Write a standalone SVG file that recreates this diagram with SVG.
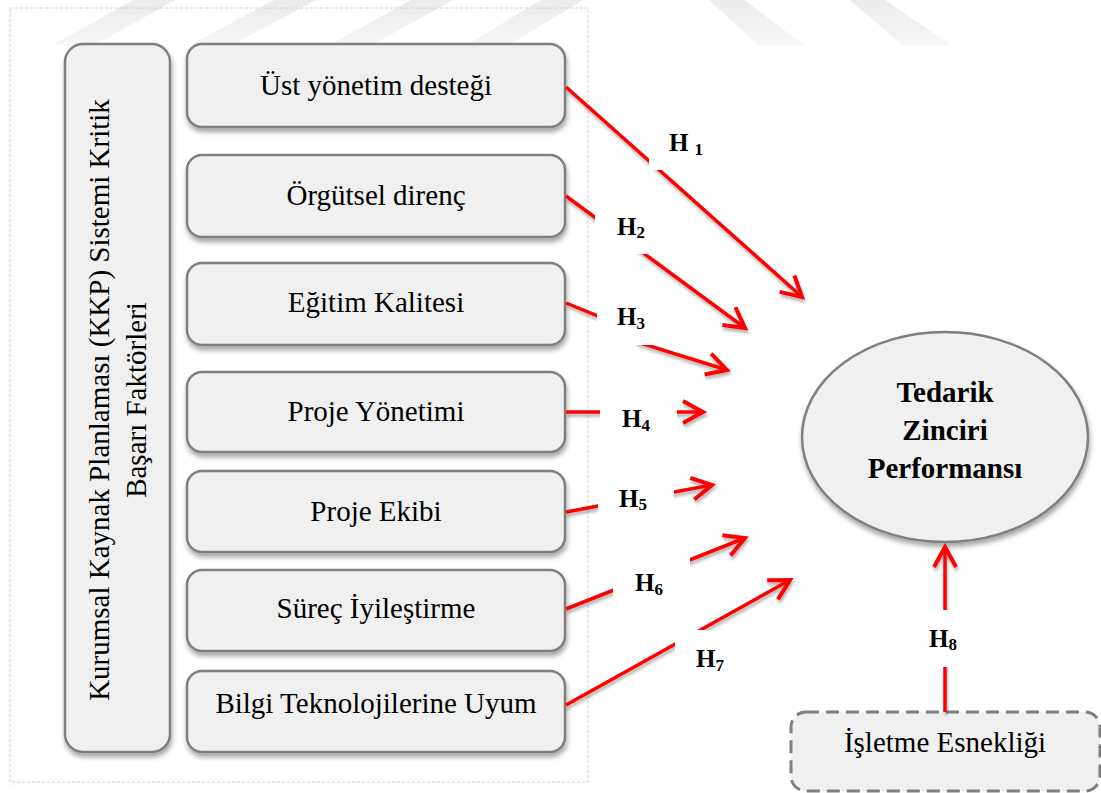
<svg xmlns="http://www.w3.org/2000/svg" width="1101" height="793" viewBox="0 0 1101 793">
  <defs>
    <filter id="sh" x="-10%" y="-10%" width="130%" height="130%">
      <feDropShadow dx="1" dy="4" stdDeviation="2.5" flood-color="#000" flood-opacity="0.35"/>
    </filter>
    <filter id="lsh" x="-10%" y="-10%" width="130%" height="130%">
      <feDropShadow dx="1" dy="3" stdDeviation="1.5" flood-color="#000" flood-opacity="0.3"/>
    </filter>
    <filter id="fsh" x="-5%" y="-5%" width="110%" height="110%">
      <feDropShadow dx="0" dy="2" stdDeviation="3" flood-color="#000" flood-opacity="0.12"/>
    </filter>
    <linearGradient id="wm" x1="0" y1="0" x2="0" y2="1">
      <stop offset="0" stop-color="#ececec"/>
      <stop offset="1" stop-color="#f6f6f6"/>
    </linearGradient>
    <marker id="ah" markerUnits="userSpaceOnUse" markerWidth="40" markerHeight="40" viewBox="-30 -20 40 40" refX="0" refY="0" orient="auto" overflow="visible">
      <path d="M-20,-11 L0,0 L-20,11" fill="none" stroke="#ff0000" stroke-width="4"/>
    </marker>
  </defs>
  <style>
    .box{fill:#f0f0f0;stroke:#7f7f7f;stroke-width:2.5;filter:url(#sh)}
    .txt{font-family:"Liberation Serif","Times New Roman",serif;font-size:29px;fill:#000;text-anchor:middle}
    .bold{font-weight:bold}
    .h{font-family:"Liberation Serif","Times New Roman",serif;font-weight:bold;font-size:25px;fill:#000}
    .sub{font-size:17px}
    .conn{stroke:#ff0000;stroke-width:3.5;fill:none;marker-end:url(#ah)}
    .gap{fill:#fff}
  </style>

  <rect width="1101" height="793" fill="#fff"/>

  <!-- faint background stripes along the top edge -->
  <g id="watermark" fill="url(#wm)">
    <polygon points="133,0 175,0 95,45 53,45"/>
    <polygon points="274,0 316,0 232,45 190,45"/>
    <polygon points="411,0 453,0 372,45 330,45"/>
    <polygon points="541,0 583,0 509,45 467,45"/>
    <polygon points="709,0 744,0 804,45 758,45"/>
    <polygon points="850,0 885,0 951,45 902,45"/>
  </g>

  <!-- dashed frame around the success factors -->
  <g id="frame">
    <rect x="10" y="8" width="578" height="774" fill="none" stroke="#d2d2d2" stroke-width="1" stroke-dasharray="3 2" filter="url(#fsh)"/>
  </g>

  <g id="group-title">
    <rect class="box" x="65" y="44" width="105" height="708" rx="18"/>
    <text class="txt" transform="translate(109,400) rotate(-90)">Kurumsal Kaynak Planlaması (KKP) Sistemi Kritik</text>
    <text class="txt" transform="translate(146,400) rotate(-90)">Başarı Faktörleri</text>
  </g>

  <g id="ust-yonetim">
    <rect class="box" x="187" y="44" width="378" height="83" rx="15"/>
    <text class="txt" x="376" y="95">Üst yönetim desteği</text>
  </g>
  <g id="orgutsel-direnc">
    <rect class="box" x="187" y="155" width="378" height="82" rx="15"/>
    <text class="txt" x="376" y="205">Örgütsel direnç</text>
  </g>
  <g id="egitim-kalitesi">
    <rect class="box" x="187" y="263" width="378" height="82" rx="15"/>
    <text class="txt" x="376" y="312">Eğitim Kalitesi</text>
  </g>
  <g id="proje-yonetimi">
    <rect class="box" x="187" y="372" width="378" height="80" rx="15"/>
    <text class="txt" x="376" y="421">Proje Yönetimi</text>
  </g>
  <g id="proje-ekibi">
    <rect class="box" x="187" y="471" width="378" height="81" rx="15"/>
    <text class="txt" x="376" y="521">Proje Ekibi</text>
  </g>
  <g id="surec-iyilestirme">
    <rect class="box" x="187" y="570" width="378" height="81" rx="15"/>
    <text class="txt" x="376" y="618">Süreç İyileştirme</text>
  </g>
  <g id="bilgi-teknolojileri">
    <rect class="box" x="187" y="671" width="378" height="81" rx="15"/>
    <text class="txt" x="376" y="713">Bilgi Teknolojilerine Uyum</text>
  </g>

  <g id="tedarik-zinciri">
    <ellipse class="box" cx="945" cy="437" rx="143" ry="105"/>
    <text class="txt bold" x="945" y="402">Tedarik</text>
    <text class="txt bold" x="945" y="440">Zinciri</text>
    <text class="txt bold" x="945" y="478">Performansı</text>
  </g>

  <g id="isletme-esnekligi">
    <rect x="791" y="712" width="309" height="79" rx="15" fill="#f0f0f0" stroke="#7f7f7f" stroke-width="3" stroke-dasharray="13 7"/>
    <text class="txt" x="945" y="752">İşletme Esnekliği</text>
  </g>

  <g id="connectors">
    <g filter="url(#lsh)">
      <path class="conn" d="M566,87 L802,297"/>
      <path class="conn" d="M566,196 L745,328"/>
      <path class="conn" d="M566,303 L615,323 L640,343 L727,370"/>
      <path class="conn" d="M566,412 L703,412"/>
      <path class="conn" d="M566,512 L712,485"/>
      <path class="conn" d="M566,609 L745,538"/>
      <path class="conn" d="M566,705 L790,580"/>
      <path class="conn" d="M945,712 L945,547"/>
    </g>
    <!-- label backgrounds interrupting the lines -->
    <rect class="gap" x="649" y="126" width="63" height="44"/>
    <rect class="gap" x="595" y="205" width="60" height="49"/>
    <rect class="gap" x="597" y="300" width="71" height="45"/>
    <rect class="gap" x="600" y="395" width="77" height="37"/>
    <rect class="gap" x="598" y="480" width="76" height="40"/>
    <rect class="gap" x="613" y="555" width="77" height="70"/>
    <rect class="gap" x="675" y="630" width="65" height="60"/>
    <rect class="gap" x="915" y="610" width="60" height="57"/>
    <text class="h" x="669" y="151">H<tspan class="sub" dx="6" dy="4">1</tspan></text>
    <text class="h" x="617" y="235">H<tspan class="sub" dy="3">2</tspan></text>
    <text class="h" x="617" y="325">H<tspan class="sub" dy="4">3</tspan></text>
    <text class="h" x="622" y="427">H<tspan class="sub" dy="4">4</tspan></text>
    <text class="h" x="619" y="507">H<tspan class="sub" dy="3">5</tspan></text>
    <text class="h" x="635" y="591">H<tspan class="sub" dy="4">6</tspan></text>
    <text class="h" x="696" y="667">H<tspan class="sub" dy="4">7</tspan></text>
    <text class="h" x="929" y="647">H<tspan class="sub" dy="3">8</tspan></text>
  </g>
</svg>
